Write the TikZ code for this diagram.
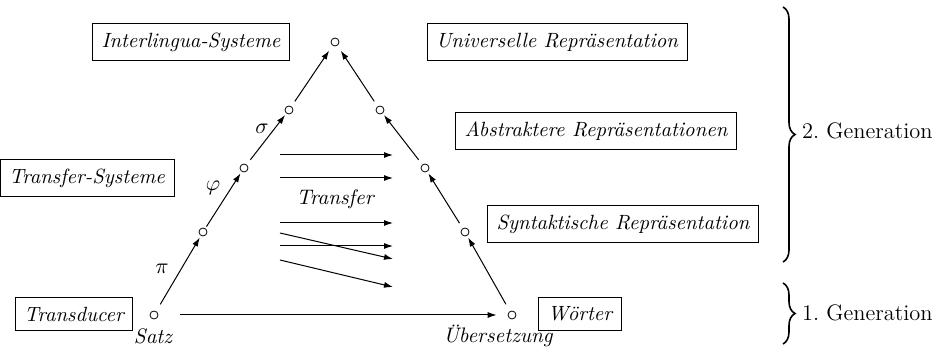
\documentclass[tikz,border=0pt]{standalone}
\usepackage{amsmath,amssymb}
\usepackage{tikz}
\usetikzlibrary{
  arrows.meta,
  positioning,
  decorations.pathreplacing
}

\begin{document}
\frenchspacing
\begin{tikzpicture}[
  x=0.5pt, y=-0.5pt,
  box/.style={draw, inner sep=4.5pt, font=\fontsize{10.3}{12}\selectfont\itshape},
  stage/.style={draw, circle, inner sep=0pt, minimum size=4pt},
  arrow/.style={-{Latex[length=4.5pt,width=3pt]}, line width=0.5pt},
  lbl/.style={font=\fontsize{10.5}{12}\selectfont\itshape},
  gen/.style={font=\fontsize{11.2}{13}\selectfont, anchor=west},
  genbrace/.style={decorate, decoration={brace, amplitude=6pt}, line width=0.8pt},
]
  \useasboundingbox (0,0) rectangle (938,347);

  % stages along the triangle
  \node[stage] (p0)  at (154,315) {};
  \node[stage] (p1)  at (203,232) {};
  \node[stage] (p2)  at (244,168) {};
  \node[stage] (p3)  at (289,110) {};
  \node[stage] (top) at (335,42)  {};
  \node[stage] (q3)  at (380,110) {};
  \node[stage] (q2)  at (425,168) {};
  \node[stage] (q1)  at (465,232) {};
  \node[stage] (q0)  at (512,315) {};

  \draw[arrow, shorten <=4pt, shorten >=1pt] (p0) -- (p1);
  \draw[arrow, shorten <=1pt, shorten >=1pt] (p1) -- (p2);
  \draw[arrow, shorten <=3pt, shorten >=1pt] (p2) -- (p3);
  \draw[arrow, shorten <=3pt, shorten >=3pt] (p3) -- (top);
  \draw[arrow, shorten <=4pt, shorten >=1pt] (q0) -- (q1);
  \draw[arrow, shorten <=3pt, shorten >=1pt] (q1) -- (q2);
  \draw[arrow, shorten <=3pt, shorten >=1pt] (q2) -- (q3);
  \draw[arrow, shorten <=3pt, shorten >=3pt] (q3) -- (top);
  \draw[arrow, shorten <=11pt, shorten >=5.5pt] (p0) -- (q0);

  \node[lbl] (sigma) at (262,129) {$\sigma$};
  \node[lbl] (phi)   at (213,188) {$\varphi$};
  \node[lbl] (pi)    at (162,269) {$\pi$};
  \node[lbl] (satz)  at (153,336) {Satz};
  \node[lbl] (ueb)   at (498,336) {Übersetzung};

  % transfer arrows
  \foreach \i/\ya/\yb in {1/155/155, 2/178/178, 3/223/223, 4/246/246, 5/233/259, 6/260/287} {
    \coordinate (ts\i) at (280,\ya);
    \coordinate (te\i) at (393,\yb);
    \draw[arrow] (ts\i) -- (te\i);
  }
  \node[lbl] (transfer) at (335,199) {Transfer};

  % boxes
  \node[box] (inter)  at (191,42)  {Interlingua-Systeme};
  \node[box] (univ)   at (557,42)  {Universelle Repräsentation};
  \node[box] (abstr)  at (596,131) {Abstraktere Repräsentationen};
  \node[box] (tsys)   at (87,178)  {Transfer-Systeme};
  \node[box] (syn)    at (623,224) {Syntaktische Repräsentation};
  \node[box] (trans)  at (74,314)  {Transducer};
  \node[box] (woerter) at (580,314) {Wörter};

  % generations
  \coordinate (b2a) at (783,7);
  \coordinate (b2b) at (783,262);
  \coordinate (b1a) at (783,283);
  \coordinate (b1b) at (783,344);
  \draw[genbrace] (b2a) -- (b2b);
  \draw[genbrace] (b1a) -- (b1b);
  \node[gen] (gen2) at (795,131) {2. Generation};
  \node[gen] (gen1) at (795,313) {1. Generation};
\end{tikzpicture}
\end{document}
